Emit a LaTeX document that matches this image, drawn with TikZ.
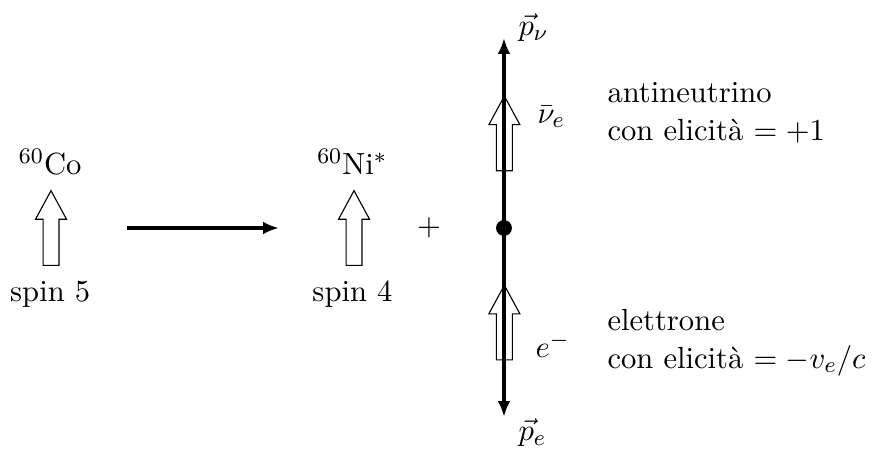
\documentclass[tikz,border=0pt,11pt]{standalone}
\usepackage{amsmath}
\usepackage{amssymb}
\usetikzlibrary{arrows.meta,positioning}
\tikzset{
  freccia/.style={-{Latex[length=2mm,width=1.6mm]},line width=1.2pt},
  impulso/.style={{Latex[length=2mm,width=1.6mm]}-{Latex[length=2mm,width=1.6mm]},line width=1.2pt},
  etichetta/.style={inner sep=0pt,anchor=base},
  nota/.style={inner sep=0pt,align=left,anchor=base west},
  punto/.style={circle,fill=black,inner sep=0pt,minimum size=2mm},
  spinfreccia/.pic={
    \draw[line width=0.4pt] (-0.10,0) -- (-0.10,0.58) -- (-0.195,0.58) -- (0,0.94)
      -- (0.195,0.58) -- (0.10,0.58) -- (0.10,0) -- cycle;
  },
}
\begin{document}
\begin{tikzpicture}[x=1cm,y=1cm]
\useasboundingbox (-6.342,-2.781) rectangle (4.631,2.869);

% nucleo iniziale
\pic (sco) at (-5.70,-0.47) {spinfreccia};
\node[etichetta] (co) at (-5.71,0.667) {$^{60}$Co};
\node[etichetta] (sp5) at (-5.71,-0.931) {spin 5};

\coordinate (da) at (-4.744,0);
\coordinate (a)  at (-2.831,0);
\draw[freccia] (da) -- (a);

% nucleo finale
\pic (sni) at (-1.887,-0.47) {spinfreccia};
\node[etichetta] (ni) at (-1.91,0.667) {$^{60}$Ni$^*$};
\node[etichetta] (sp4) at (-1.906,-0.931) {spin 4};

\node[inner sep=0pt] (piu) at (-0.944,0) {$+$};

% leptoni
\pic (snu) at (0.005,0.72) {spinfreccia};
\pic (sel) at (0.005,-1.66) {spinfreccia};
\coordinate (pnu) at (0,2.391);
\coordinate (pe)  at (0,-2.378);
\draw[impulso] (pe) -- (pnu);
\node[punto] (vert) at (0,0) {};

\node[inner sep=0pt,anchor=west] (lpnu) at (0.176,2.517) {$\vec{p}_\nu$};
\node[inner sep=0pt,anchor=west] (lpe)  at (0.176,-2.58) {$\vec{p}_e$};
\node[inner sep=0pt,anchor=west] (lnu)  at (0.415,1.397) {$\bar{\nu}_e$};
\node[inner sep=0pt,anchor=west] (lel)  at (0.39,-1.472) {$e^-$};

\node[nota] (tnu) at (1.296,1.095) {antineutrino\\con elicità $=+1$};
\node[nota] (tel) at (1.296,-1.762) {elettrone\\con elicità $=-v_e/c$};

\end{tikzpicture}
\end{document}
